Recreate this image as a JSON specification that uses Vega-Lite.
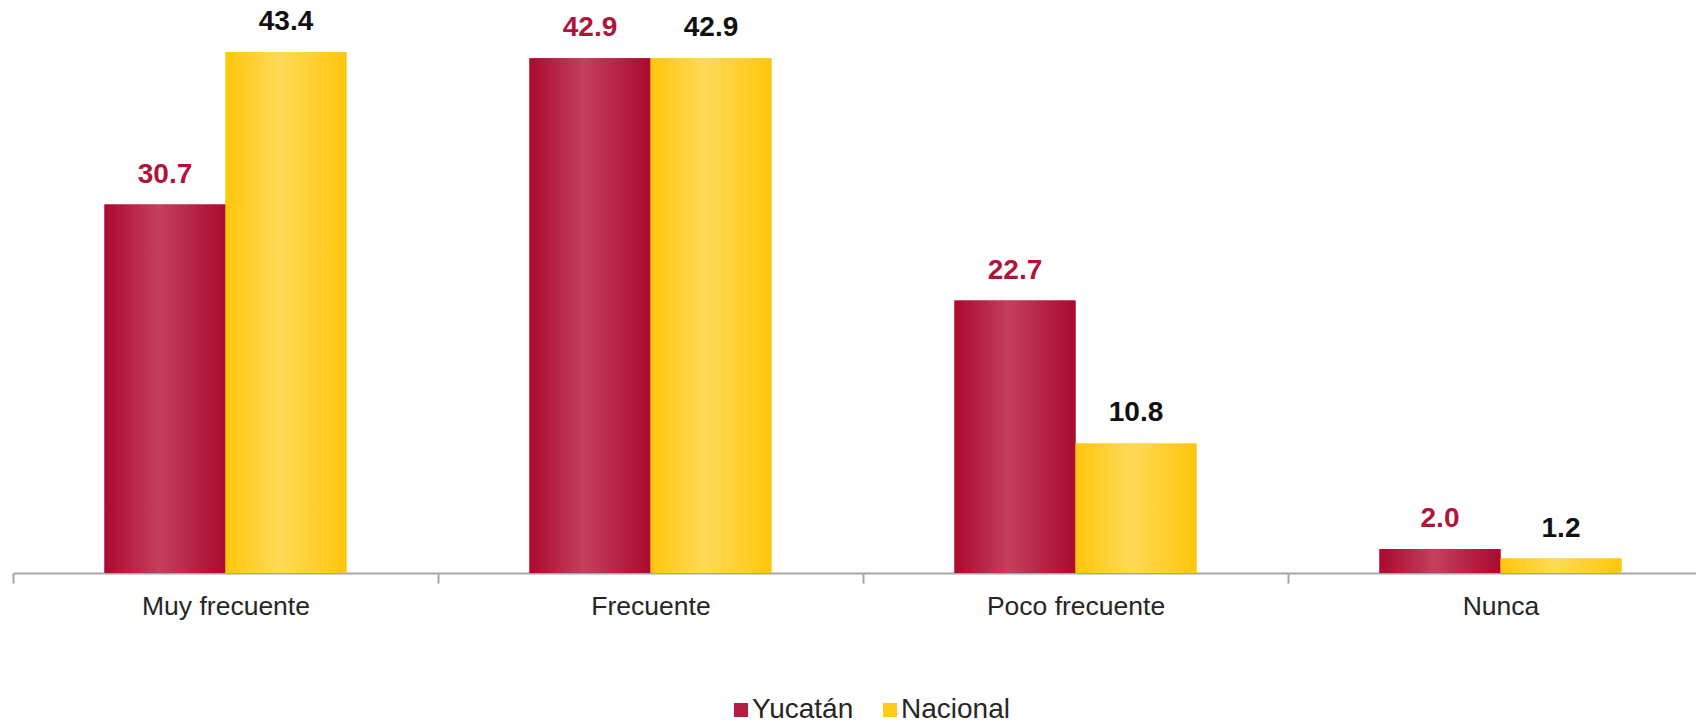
{
  "$schema": "https://vega.github.io/schema/vega-lite/v6.json",
  "autosize": "none",
  "width": 1683,
  "height": 540,
  "padding": {"left": 13, "top": 33, "right": 0, "bottom": 152},
  "background": "white",
  "config": {"view": {"stroke": null}, "font": "Liberation Sans"},
  "data": {
    "values": [
      {"categoria": "Muy frecuente", "serie": "Yucatán", "valor": 30.7},
      {"categoria": "Muy frecuente", "serie": "Nacional", "valor": 43.4},
      {"categoria": "Frecuente", "serie": "Yucatán", "valor": 42.9},
      {"categoria": "Frecuente", "serie": "Nacional", "valor": 42.9},
      {"categoria": "Poco frecuente", "serie": "Yucatán", "valor": 22.7},
      {"categoria": "Poco frecuente", "serie": "Nacional", "valor": 10.8},
      {"categoria": "Nunca", "serie": "Yucatán", "valor": 2.0},
      {"categoria": "Nunca", "serie": "Nacional", "valor": 1.2}
    ]
  },
  "encoding": {
    "x": {
      "field": "categoria", "type": "nominal",
      "sort": ["Muy frecuente", "Frecuente", "Poco frecuente", "Nunca"],
      "scale": {"paddingInner": 0, "paddingOuter": 0, "range": [0, 1700]},
      "axis": {
        "title": null, "labelAngle": 0, "tickBand": "extent",
        "domainColor": "#A6A6A6", "domainWidth": 2, "tickColor": "#A6A6A6", "tickWidth": 2, "tickSize": 10,
        "labelFontSize": 26.5, "labelColor": "#262626", "labelPadding": 10, "labelFont": "Liberation Sans"
      }
    },
    "xOffset": {
      "field": "serie", "type": "nominal", "sort": ["Yucatán", "Nacional"],
      "scale": {"paddingInner": 0, "paddingOuter": 0.756}
    },
    "y": {
      "field": "valor", "type": "quantitative",
      "scale": {"domain": [0, 45], "nice": false},
      "axis": null
    }
  },
  "layer": [
    {
      "mark": {"type": "bar"},
      "encoding": {
        "color": {
          "field": "serie", "type": "nominal", "sort": ["Yucatán", "Nacional"],
          "scale": {"domain": ["Yucatán", "Nacional"], "range": ["#B51E42", "#FFCB1F"]},
          "legend": {
            "title": null, "orient": "none", "direction": "horizontal",
            "legendX": 714, "legendY": 663,
            "symbolType": "square", "symbolSize": 196, "symbolStrokeWidth": 0,
            "labelFontSize": 28, "labelColor": "#262626", "labelFont": "Liberation Sans",
            "columnPadding": 22, "labelOffset": -3
          }
        }
      }
    },
    {
      "transform": [{"filter": "datum.serie === 'Yucatán'"}],
      "mark": {
        "type": "bar",
        "fill": {
          "gradient": "linear", "x1": 0, "x2": 1, "y1": 0, "y2": 0,
          "stops": [
            {"offset": 0, "color": "#AA0A2E"},
            {"offset": 0.45, "color": "#C43F5E"},
            {"offset": 1, "color": "#AA0A2E"}
          ]
        }
      }
    },
    {
      "transform": [{"filter": "datum.serie === 'Nacional'"}],
      "mark": {
        "type": "bar",
        "fill": {
          "gradient": "linear", "x1": 0, "x2": 1, "y1": 0, "y2": 0,
          "stops": [
            {"offset": 0, "color": "#FFC60A"},
            {"offset": 0.45, "color": "#FFDA58"},
            {"offset": 1, "color": "#FFC60A"}
          ]
        }
      }
    },
    {
      "transform": [{"filter": "datum.serie === 'Yucatán'"}],
      "mark": {"type": "text", "baseline": "alphabetic", "dy": -22, "fontSize": 28, "fontWeight": "bold", "color": "#B0143A", "font": "Liberation Sans"},
      "encoding": {"text": {"field": "valor", "type": "quantitative", "format": ".1f"}}
    },
    {
      "transform": [{"filter": "datum.serie === 'Nacional'"}],
      "mark": {"type": "text", "baseline": "alphabetic", "dy": -22, "fontSize": 28, "fontWeight": "bold", "color": "#111111", "font": "Liberation Sans"},
      "encoding": {"text": {"field": "valor", "type": "quantitative", "format": ".1f"}}
    }
  ]
}
